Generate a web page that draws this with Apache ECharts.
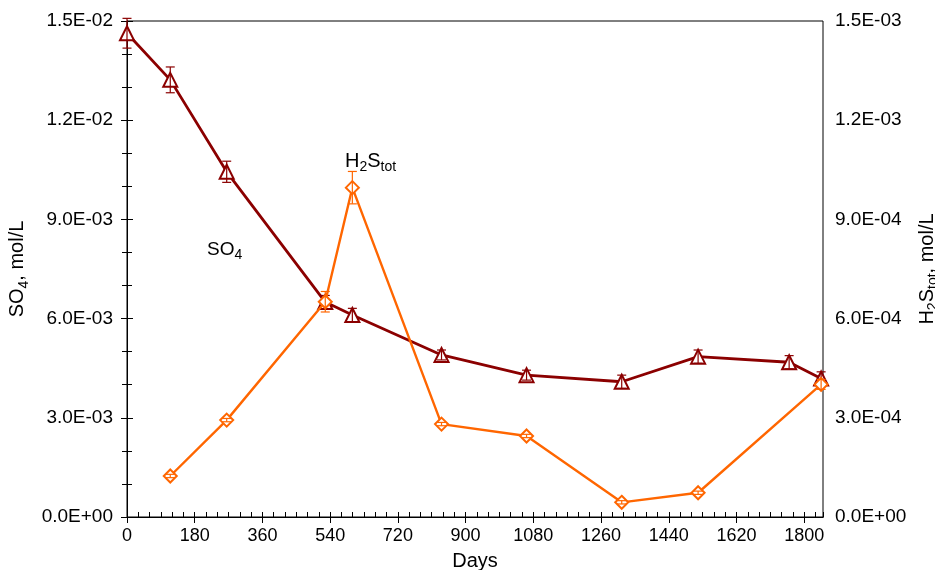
<!DOCTYPE html>
<html><head><meta charset="utf-8">
<script src="https://cdn.jsdelivr.net/npm/echarts@6/dist/echarts.min.js"></script>
<style>html,body{margin:0;padding:0;background:#fff}#chart{width:935px;height:570px}</style>
</head><body><div id="chart"></div>
<script>
// ---- data ----
const so4Days = [0, 115, 265, 527, 599, 836, 1062, 1315, 1518, 1760, 1845];
const so4 = [0.01463, 0.01322, 0.01044, 0.0065, 0.00611, 0.0049, 0.00429, 0.00409, 0.00485, 0.00468, 0.00419];
const so4Err = [0.00045, 0.00039, 0.00032, 0.0002, 0.0002, 0.00015, 0.00015, 0.0002, 0.0002, 0.0002, 0.0002];
const h2sDays = [115, 265, 527, 599, 836, 1062, 1315, 1518, 1845];
const h2s = [0.000124, 0.000293, 0.000651, 0.000996, 0.000281, 0.000245, 0.0000444, 0.0000733, 0.000401];
const h2sErr = [0.000005, 0.000005, 0.000031, 0.000049, 0.000005, 0.000005, 0.000005, 0.000005, 0.000015];
const xTickLabels = [0, 180, 360, 540, 720, 900, 1080, 1260, 1440, 1620, 1800];

const FONT = "'Liberation Sans', Arial, sans-serif";
const SO4_COLOR = '#8B0000';
const H2S_COLOR = '#FF6600';

function sci(v) {
  if (Math.abs(v) < 1e-12) return '0.0E+00';
  let e = Math.floor(Math.log10(Math.abs(v)) + 1e-9);
  let m = v / Math.pow(10, e);
  if (Math.round(m * 10) / 10 >= 10) { m /= 10; e++; }
  return m.toFixed(1) + 'E' + (e < 0 ? '-' : '+') + String(Math.abs(e)).padStart(2, '0');
}

function makeRich(big, small) {
  return {
    a: { fontSize: big, fontFamily: FONT, color: '#000', lineHeight: big + 4, verticalAlign: 'bottom' },
    s: { fontSize: small, fontFamily: FONT, color: '#000', lineHeight: small + 2, verticalAlign: 'bottom', padding: [0, 0, -3, 0] }
  };
}

function errRender(color) {
  return function (params, api) {
    const x = api.value(0), lo = api.value(1), hi = api.value(2);
    const p1 = api.coord([x, hi]), p2 = api.coord([x, lo]);
    const w = 4.5;
    const st = { stroke: color, lineWidth: 1.2 };
    return {
      type: 'group',
      children: [
        { type: 'line', shape: { x1: p1[0], y1: p1[1], x2: p2[0], y2: p2[1] }, style: st },
        { type: 'line', shape: { x1: p1[0] - w, y1: p1[1], x2: p1[0] + w, y2: p1[1] }, style: st },
        { type: 'line', shape: { x1: p2[0] - w, y1: p2[1], x2: p2[0] + w, y2: p2[1] }, style: st }
      ]
    };
  };
}

const chart = echarts.init(document.getElementById('chart'), null, { renderer: 'canvas' });
const axisLine = { show: true, lineStyle: { color: '#000', width: 1 } };
const option = {
  animation: false,
  backgroundColor: '#fff',
  grid: { left: 127, right: 112, top: 21, bottom: 53, show: true, borderColor: '#000', borderWidth: 1, outerBoundsMode: 'none', containLabel: false },
  xAxis: [
    {
      type: 'value', min: 0, max: 1850, interval: 180, position: 'bottom',
      axisLine: axisLine,
      axisTick: { show: true, inside: false, length: 6, lineStyle: { color: '#000' } },
      axisLabel: {
        color: '#000', fontSize: 18, fontFamily: FONT, margin: 10, showMaxLabel: false,
        formatter: v => (xTickLabels.indexOf(v) >= 0 ? String(v) : '')
      },
      splitLine: { show: false },
      name: 'Days', nameLocation: 'middle', nameGap: 34,
      nameTextStyle: { fontSize: 20, fontFamily: FONT, color: '#000' }
    },
    {
      type: 'value', min: 0, max: 1850, interval: 30, position: 'bottom',
      axisLine: axisLine,
      axisTick: { show: true, inside: true, length: 5, lineStyle: { color: '#000' } },
      axisLabel: { show: false },
      splitLine: { show: false }
    }
  ],
  yAxis: [
    {
      type: 'value', min: 0, max: 0.015, interval: 0.003, position: 'left',
      axisLine: axisLine,
      axisTick: { show: true, inside: false, length: 6, lineStyle: { color: '#000' } },
      minorTick: { show: true, splitNumber: 3, length: 5, lineStyle: { color: '#000' } },
      axisLabel: { color: '#000', fontSize: 19, fontFamily: FONT, margin: 14, formatter: sci },
      splitLine: { show: false },
      name: '{a|SO}{s|4}{a|, mol/L}', nameLocation: 'middle', nameGap: 92, nameRotate: 90,
      nameTextStyle: { rich: makeRich(20, 14) }
    },
    {
      type: 'value', min: 0, max: 0.0015, interval: 0.0003, position: 'right',
      axisLine: axisLine,
      axisTick: { show: true, inside: false, length: 6, lineStyle: { color: '#000' } },
      minorTick: { show: true, splitNumber: 3, length: 5, lineStyle: { color: '#000' } },
      axisLabel: { color: '#000', fontSize: 19, fontFamily: FONT, margin: 12, formatter: sci },
      splitLine: { show: false },
      name: '{a|H}{s|2}{a|S}{s|tot}{a|, mol/L}', nameLocation: 'middle', nameGap: 85, nameRotate: 90,
      nameTextStyle: { rich: makeRich(20, 14) }
    }
  ],
  graphic: [
    { type: 'text', left: 207, top: 240, style: { text: '{a|SO}{s|4}', rich: makeRich(19, 14) } },
    { type: 'text', left: 345, top: 151, style: { text: '{a|H}{s|2}{a|S}{s|tot}', rich: makeRich(20, 14) } }
  ],
  series: [
    {
      name: 'SO4', type: 'line', xAxisIndex: 0, yAxisIndex: 0,
      data: so4Days.map((d, i) => [d, so4[i]]),
      symbol: 'emptyTriangle', symbolSize: 14,
      lineStyle: { color: SO4_COLOR, width: 2.8 },
      itemStyle: { color: SO4_COLOR, borderWidth: 1.2 },
      z: 2
    },
    {
      name: 'SO4 err', type: 'custom', xAxisIndex: 0, yAxisIndex: 0,
      data: so4Days.map((d, i) => [d, so4[i] - so4Err[i], so4[i] + so4Err[i]]),
      renderItem: errRender(SO4_COLOR), z: 3
    },
    {
      name: 'H2S', type: 'line', xAxisIndex: 0, yAxisIndex: 1,
      data: h2sDays.map((d, i) => [d, h2s[i]]),
      symbol: 'emptyDiamond', symbolSize: 13,
      lineStyle: { color: H2S_COLOR, width: 2.4 },
      itemStyle: { color: H2S_COLOR, borderWidth: 1.2 },
      z: 4
    },
    {
      name: 'H2S err', type: 'custom', xAxisIndex: 0, yAxisIndex: 1,
      data: h2sDays.map((d, i) => [d, h2s[i] - h2sErr[i], h2s[i] + h2sErr[i]]),
      renderItem: errRender(H2S_COLOR), z: 5
    }
  ]
};
chart.setOption(option);
</script>
</body></html>
